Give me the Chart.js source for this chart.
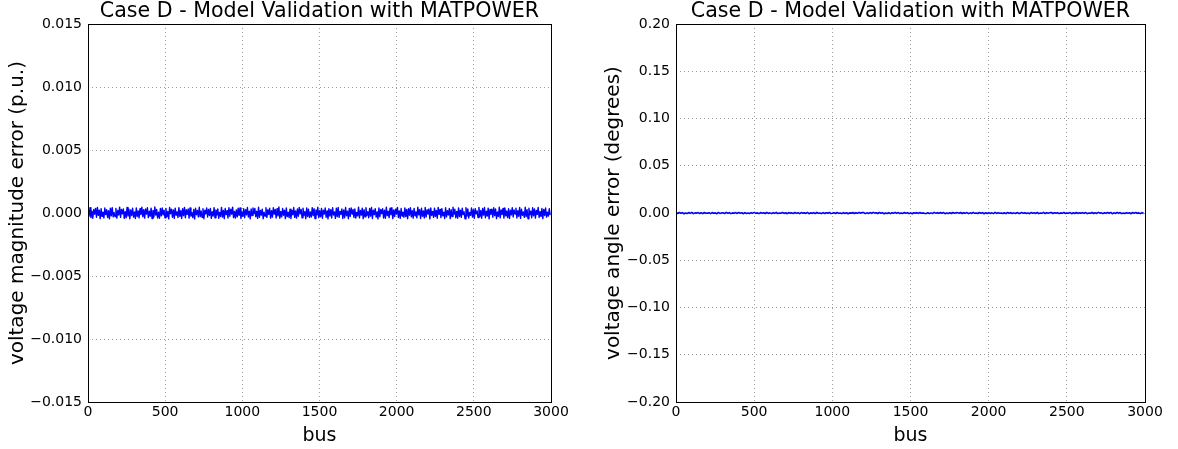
<!DOCTYPE html>
<html>
<head>
<meta charset="utf-8">
<script src="https://cdn.jsdelivr.net/npm/chart.js@4.4.0/dist/chart.umd.min.js"></script>
<style>
  body { margin: 0; background: #fff; width: 1178px; height: 449px; overflow: hidden; position: relative; }
  canvas { position: absolute; top: 0; }
  #magChart { left: 0; }
  #angChart { left: 589px; }
</style>
</head>
<body>
<canvas id="magChart" width="589" height="449"></canvas>
<canvas id="angChart" width="589" height="449"></canvas>
<script>
// ###########################################

const chartTitle = 'Case D - Model Validation with MATPOWER';
const xTicks = [0, 500, 1000, 1500, 2000, 2500, 3000];
const magTicks = [-0.015, -0.010, -0.005, 0.000, 0.005, 0.010, 0.015];
const angTicks = [-0.20, -0.15, -0.10, -0.05, 0.00, 0.05, 0.10, 0.15, 0.20];

// voltage magnitude error (p.u.)
const magErr = [
  3.1e-4,-2.4e-4,4.2e-4,-3.6e-4,1.5e-4,-4.1e-4,2.8e-4,-0.9e-4,3.7e-4,-3.3e-4,4.5e-4,-1.8e-4,2.2e-4,-4.4e-4,3.4e-4,-2.6e-4,0.7e-4,-3.9e-4,4.0e-4,-1.2e-4,
  2.6e-4,-3.5e-4,1.9e-4,-4.6e-4,3.9e-4,-2.1e-4,4.3e-4,-3.0e-4,0.4e-4,-2.8e-4,3.6e-4,-4.0e-4,2.0e-4,-1.5e-4,4.7e-4,-3.4e-4,2.9e-4,-0.6e-4,3.3e-4,-4.2e-4,
  1.1e-4,-3.7e-4,4.4e-4,-2.3e-4,3.0e-4,-4.5e-4,2.4e-4,-1.9e-4,3.8e-4,-3.2e-4,0.9e-4,-4.3e-4,4.1e-4,-2.7e-4,1.7e-4,-3.8e-4,3.5e-4,-1.1e-4,4.6e-4,-2.9e-4,
  2.7e-4,-4.0e-4,3.2e-4,-0.8e-4,4.2e-4,-3.6e-4,1.4e-4,-2.5e-4,3.9e-4,-4.4e-4,2.1e-4,-3.1e-4,4.8e-4,-1.6e-4,2.9e-4,-3.9e-4,0.6e-4,-4.1e-4,3.6e-4,-2.2e-4,
  4.0e-4,-1.4e-4,2.3e-4,-3.8e-4,3.7e-4,-2.9e-4,1.2e-4,-4.6e-4,4.4e-4,-0.5e-4,3.1e-4,-3.3e-4,2.5e-4,-4.2e-4,3.9e-4,-1.7e-4,0.8e-4,-3.5e-4,4.3e-4,-2.6e-4,
  1.9e-4,-4.3e-4,3.4e-4,-2.0e-4,4.5e-4,-3.7e-4,2.6e-4,-1.0e-4,3.2e-4,-4.0e-4,4.1e-4,-2.4e-4,0.3e-4,-3.6e-4,2.8e-4,-4.7e-4,3.8e-4,-1.3e-4,2.0e-4,-3.0e-4,
  4.6e-4,-2.8e-4,1.6e-4,-3.4e-4,3.5e-4,-4.5e-4,2.2e-4,-0.7e-4,4.0e-4,-3.1e-4,2.9e-4,-1.9e-4,3.7e-4,-4.2e-4,1.0e-4,-2.3e-4,4.3e-4,-3.8e-4,2.4e-4,-1.5e-4,
  3.3e-4,-4.1e-4,0.5e-4,-2.7e-4,4.5e-4,-3.2e-4,2.1e-4,-4.4e-4,3.6e-4,-1.2e-4,1.8e-4,-3.9e-4,4.2e-4,-2.5e-4,3.0e-4,-0.9e-4,4.7e-4,-3.6e-4,1.3e-4,-4.0e-4,
  2.5e-4,-3.0e-4,3.9e-4,-1.8e-4,4.1e-4,-4.3e-4,0.9e-4,-2.6e-4,3.4e-4,-3.7e-4,2.7e-4,-1.4e-4,4.4e-4,-3.1e-4,1.5e-4,-4.6e-4,3.2e-4,-2.0e-4,4.0e-4,-0.4e-4,
  3.7e-4,-2.9e-4,1.4e-4,-4.2e-4,4.6e-4,-3.3e-4,2.0e-4,-1.6e-4,3.1e-4,-4.5e-4,0.7e-4,-2.4e-4,4.3e-4,-3.5e-4,2.6e-4,-1.1e-4,3.8e-4,-4.0e-4,1.9e-4,-3.2e-4,
  4.2e-4,-0.8e-4,2.9e-4,-3.9e-4,3.5e-4,-2.2e-4,4.8e-4,-4.1e-4,1.2e-4,-3.0e-4,3.6e-4,-1.7e-4,2.3e-4,-4.4e-4,4.0e-4,-2.8e-4,0.6e-4,-3.6e-4,3.1e-4,-4.3e-4,
  2.1e-4,-1.3e-4,4.4e-4,-3.4e-4,1.7e-4,-4.0e-4,3.3e-4,-2.5e-4,4.5e-4,-0.6e-4,2.8e-4,-3.8e-4,3.9e-4,-1.9e-4,1.1e-4,-4.5e-4,4.1e-4,-2.7e-4,3.0e-4,-3.5e-4,
  0.8e-4,-3.1e-4,4.3e-4,-2.0e-4,3.4e-4,-4.4e-4,2.5e-4,-1.4e-4,4.6e-4,-3.6e-4,1.8e-4,-2.9e-4,3.7e-4,-4.1e-4,2.2e-4,-0.8e-4,4.0e-4,-3.3e-4,1.6e-4,-4.6e-4,
  3.5e-4,-2.3e-4,2.7e-4,-3.9e-4,4.2e-4,-1.5e-4,0.9e-4,-4.2e-4,3.8e-4,-2.8e-4,4.5e-4,-3.4e-4,1.3e-4,-1.0e-4,3.2e-4,-4.3e-4,2.4e-4,-3.7e-4,4.4e-4,-2.1e-4,
  1.5e-4,-4.5e-4,3.6e-4,-2.6e-4,4.1e-4,-0.7e-4,2.9e-4,-3.5e-4,3.3e-4,-4.0e-4,0.5e-4,-2.2e-4,4.7e-4,-3.8e-4,2.0e-4,-1.6e-4,3.9e-4,-4.4e-4,2.6e-4,-3.0e-4,
  4.3e-4,-1.8e-4,1.0e-4,-3.7e-4,3.7e-4,-2.4e-4,4.4e-4,-4.3e-4,2.3e-4,-1.2e-4,3.5e-4,-3.2e-4,0.8e-4,-4.6e-4,4.0e-4,-2.9e-4,2.8e-4,-0.5e-4,3.4e-4,-3.9e-4,
  2.2e-4,-4.1e-4,4.6e-4,-2.0e-4,1.4e-4,-3.6e-4,3.8e-4,-1.3e-4,4.2e-4,-4.4e-4,2.5e-4,-2.7e-4,3.1e-4,-0.9e-4,4.5e-4,-3.5e-4,1.7e-4,-4.2e-4,3.6e-4,-2.3e-4,
  0.6e-4,-3.3e-4,4.1e-4,-2.8e-4,2.9e-4,-4.5e-4,3.4e-4,-1.7e-4,4.3e-4,-3.0e-4,1.9e-4,-4.0e-4,3.7e-4,-2.1e-4,0.9e-4,-3.8e-4,4.6e-4,-1.4e-4,2.7e-4,-4.3e-4,
  3.8e-4,-2.5e-4,1.6e-4,-3.9e-4,4.4e-4,-3.1e-4,2.4e-4,-0.7e-4,3.2e-4,-4.6e-4,4.0e-4,-1.9e-4,1.2e-4,-3.4e-4,3.9e-4,-2.6e-4,2.1e-4,-4.1e-4,4.5e-4,-1.0e-4,
  2.9e-4,-3.6e-4,3.5e-4,-2.2e-4,0.7e-4,-4.3e-4,4.2e-4,-3.0e-4,1.8e-4,-1.5e-4,3.6e-4,-4.4e-4,2.6e-4,-2.8e-4,4.7e-4,-0.8e-4,3.0e-4,-3.7e-4,1.3e-4,-4.0e-4,
  4.1e-4,-2.7e-4,2.3e-4,-3.4e-4,3.8e-4,-1.2e-4,1.0e-4,-4.5e-4,4.3e-4,-2.4e-4,3.3e-4,-3.9e-4,0.5e-4,-1.8e-4,4.0e-4,-3.2e-4,2.7e-4,-4.2e-4,3.5e-4,-0.6e-4,
  1.7e-4,-3.5e-4,4.5e-4,-2.9e-4,2.0e-4,-4.1e-4,3.6e-4,-1.6e-4,4.4e-4,-3.7e-4,1.4e-4,-2.3e-4,3.9e-4,-4.6e-4,2.8e-4,-0.9e-4,3.1e-4,-3.3e-4,4.2e-4,-2.0e-4,
  3.2e-4,-4.4e-4,0.8e-4,-2.6e-4,4.6e-4,-3.8e-4,2.5e-4,-1.1e-4,3.7e-4,-4.0e-4,4.1e-4,-2.2e-4,1.6e-4,-3.6e-4,3.4e-4,-4.3e-4,2.2e-4,-1.4e-4,4.3e-4,-3.1e-4,
  2.4e-4,-0.7e-4,3.9e-4,-3.9e-4,1.9e-4,-2.5e-4,4.4e-4,-4.2e-4,3.0e-4,-1.7e-4,0.9e-4,-3.4e-4,4.6e-4,-2.8e-4,2.6e-4,-4.5e-4,3.8e-4,-1.3e-4,1.5e-4,-3.7e-4,
  4.2e-4,-2.1e-4,3.3e-4,-4.0e-4,2.1e-4,-1.0e-4,4.5e-4,-3.5e-4,1.1e-4,-2.7e-4,3.6e-4,-4.4e-4,2.9e-4,-1.9e-4,4.0e-4,-3.2e-4,0.7e-4,-2.4e-4,3.5e-4,-1.6e-4
];

// voltage angle error (degrees)
const angErr = [
  3e-4,-5e-4,6e-4,-2e-4,4e-4,-7e-4,1e-4,-4e-4,5e-4,-3e-4,7e-4,-6e-4,2e-4,-1e-4,5e-4,-5e-4,3e-4,-6e-4,6e-4,-2e-4,
  -1e-4,4e-4,-6e-4,5e-4,-3e-4,2e-4,-7e-4,6e-4,-4e-4,1e-4,3e-4,-5e-4,7e-4,-2e-4,4e-4,-6e-4,2e-4,-3e-4,5e-4,-4e-4,
  6e-4,-2e-4,3e-4,-7e-4,5e-4,-4e-4,1e-4,-5e-4,4e-4,-1e-4,7e-4,-3e-4,2e-4,-6e-4,5e-4,-2e-4,3e-4,-5e-4,6e-4,-4e-4,
  2e-4,-6e-4,4e-4,-3e-4,7e-4,-5e-4,1e-4,-2e-4,6e-4,-4e-4,3e-4,-7e-4,5e-4,-1e-4,2e-4,-5e-4,6e-4,-3e-4,4e-4,-6e-4,
  5e-4,-1e-4,3e-4,-4e-4,6e-4,-7e-4,2e-4,-3e-4,4e-4,-5e-4,7e-4,-2e-4,1e-4,-6e-4,5e-4,-4e-4,3e-4,-1e-4,6e-4,-5e-4,
  -2e-4,4e-4,-5e-4,6e-4,-3e-4,1e-4,-6e-4,5e-4,-4e-4,3e-4,-7e-4,2e-4,-1e-4,6e-4,-5e-4,4e-4,-3e-4,7e-4,-2e-4,5e-4,
  4e-4,-6e-4,2e-4,-4e-4,5e-4,-3e-4,7e-4,-1e-4,3e-4,-5e-4,6e-4,-2e-4,4e-4,-7e-4,1e-4,-4e-4,5e-4,-6e-4,3e-4,-2e-4,
  7e-4,-3e-4,5e-4,-5e-4,1e-4,-4e-4,6e-4,-2e-4,4e-4,-6e-4,2e-4,-7e-4,3e-4,-1e-4,5e-4,-4e-4,6e-4,-3e-4,2e-4,-5e-4,
  -4e-4,3e-4,-6e-4,2e-4,-5e-4,7e-4,-1e-4,4e-4,-3e-4,6e-4,-2e-4,5e-4,-7e-4,1e-4,-4e-4,3e-4,-5e-4,6e-4,-1e-4,4e-4,
  3e-4,-2e-4,6e-4,-5e-4,4e-4,-1e-4,5e-4,-6e-4,2e-4,-4e-4,7e-4,-3e-4,1e-4,-5e-4,6e-4,-2e-4,4e-4,-7e-4,3e-4,-4e-4,
  5e-4,-4e-4,2e-4,-6e-4,7e-4,-3e-4,4e-4,-2e-4,1e-4,-5e-4,3e-4,-6e-4,6e-4,-1e-4,4e-4,-4e-4,2e-4,-5e-4,5e-4,-3e-4,
  -3e-4,6e-4,-1e-4,4e-4,-5e-4,2e-4,-7e-4,5e-4,-2e-4,3e-4,-4e-4,6e-4,-6e-4,1e-4,-3e-4,7e-4,-5e-4,4e-4,-2e-4,3e-4,
  6e-4,-5e-4,3e-4,-1e-4,4e-4,-6e-4,2e-4,-3e-4,7e-4,-4e-4,1e-4,-2e-4,5e-4,-7e-4,3e-4,-5e-4,6e-4,-4e-4,2e-4,-1e-4,
  4e-4,-3e-4,5e-4,-6e-4,1e-4,-2e-4,6e-4,-5e-4,3e-4,-4e-4,7e-4,-1e-4,2e-4,-6e-4,4e-4,-3e-4,5e-4,-2e-4,6e-4,-7e-4,
  2e-4,-4e-4,7e-4,-3e-4,5e-4,-6e-4,1e-4,-5e-4,4e-4,-2e-4,3e-4,-7e-4,6e-4,-1e-4,5e-4,-3e-4,2e-4,-6e-4,4e-4,-5e-4
];

// bus numbers for the sampled points (3000-bus case)
const magBus = magErr.map((_, i) => 1 + i * 6);
const angBus = angErr.map((_, i) => 1 + i * 10);


// ######### helpers
// ###########################################

const FONT = "'DejaVu Sans', sans-serif";

// black frame around the plot area, like matplotlib
const frameBox = {
    id: 'frameBox',
    afterDatasetsDraw(chart) {
        const a = chart.chartArea;
        const ctx = chart.ctx;
        ctx.save();
        ctx.strokeStyle = '#000';
        ctx.lineWidth = 1;
        ctx.strokeRect(Math.round(a.left) + 0.5, Math.round(a.top) + 0.5,
                       Math.round(a.right - a.left), Math.round(a.bottom - a.top));
        ctx.restore();
    }
};

function fmtTick(v, dec) {
    return v.toFixed(dec).replace('-', '\u2212').replace(/^\u22120\.0+$/, m => m.slice(1));
}

// grid: grey dotted, matplotlib classic style
const gridOpts = { color: 'rgba(0,0,0,0.4)', lineWidth: 1, drawTicks: false };
const borderOpts = { display: false, dash: [1, 3] };

function makeChart(id, buses, values, yTitle, yTicks, dec, opts) {
    const el = document.getElementById(id);
    return new Chart(el.getContext('2d'), {
        type: 'line',
        data: {
            datasets: [{
                data: buses.map((b, i) => ({ x: b, y: values[i] })),
                borderColor: '#0000ff',
                borderWidth: opts.lineWidth,
                borderJoinStyle: 'round',
                pointRadius: 0,
                tension: 0,
                fill: false
            }]
        },
        plugins: [frameBox],
        options: {
            responsive: false,
            animation: false,
            events: [],
            layout: { padding: { left: 0, right: opts.rightPad, top: 0, bottom: 0 } },
            plugins: {
                legend: { display: false },
                tooltip: { enabled: false },
                title: {
                    display: true,
                    text: chartTitle,
                    fullSize: false,
                    color: '#000',
                    font: { family: FONT, size: 20.6, weight: 'normal', lineHeight: 1.17 },
                    padding: { top: 0, bottom: 0 }
                }
            },
            scales: {
                x: {
                    type: 'linear',
                    min: xTicks[0],
                    max: xTicks[xTicks.length - 1],
                    afterBuildTicks: s => { s.ticks = xTicks.map(v => ({ value: v })); },
                    afterFit: s => { s.height = 47; },
                    border: borderOpts,
                    grid: gridOpts,
                    ticks: {
                        color: '#000', padding: 2, maxRotation: 0,
                        font: { family: FONT, size: 14 },
                        callback: v => String(v)
                    },
                    title: {
                        display: true, text: 'bus', color: '#000',
                        font: { family: FONT, size: 19 },
                        padding: { top: 0, bottom: 2 }
                    }
                },
                y: {
                    min: yTicks[0],
                    max: yTicks[yTicks.length - 1],
                    afterBuildTicks: s => { s.ticks = yTicks.map(v => ({ value: v })); },
                    afterFit: s => { s.width = opts.yWidth; },
                    border: borderOpts,
                    grid: gridOpts,
                    ticks: {
                        color: '#000', padding: 6,
                        font: { family: FONT, size: 14 },
                        callback: v => fmtTick(v, dec)
                    },
                    title: {
                        display: true, text: yTitle, color: '#000',
                        font: { family: FONT, size: 20 },
                        padding: { top: opts.yTitlePad, bottom: 0 }
                    }
                }
            }
        }
    });
}

makeChart('magChart', magBus, magErr, 'voltage magnitude error (p.u.)', magTicks, 3,
          { yWidth: 88, rightPad: 38, yTitlePad: 6, lineWidth: 1.4 });
makeChart('angChart', angBus, angErr, 'voltage angle error (degrees)', angTicks, 2,
          { yWidth: 87, rightPad: 33, yTitlePad: 13, lineWidth: 1.6 });
</script>
</body>
</html>
